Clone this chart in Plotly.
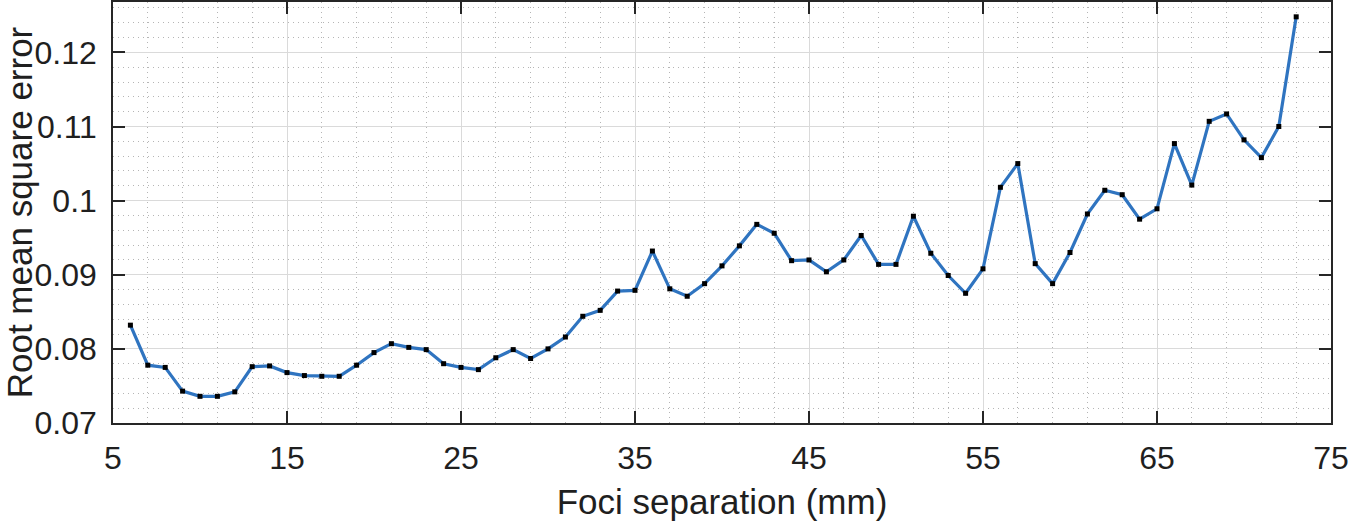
import plotly.graph_objects as go

# Foci separation (mm)
separation = list(range(6, 74))

# Root mean square error
rmse = [
    0.0832, 0.0778, 0.0775, 0.0743, 0.0736, 0.0736, 0.0742, 0.0776,
    0.0777, 0.0768, 0.0764, 0.0763, 0.0763, 0.0778, 0.0795, 0.0807,
    0.0802, 0.0799, 0.0780, 0.0775, 0.0772, 0.0788, 0.0799, 0.0787,
    0.0800, 0.0816, 0.0844, 0.0852, 0.0878, 0.0879, 0.0932, 0.0881,
    0.0871, 0.0888, 0.0912, 0.0939, 0.0968, 0.0956, 0.0919, 0.0920,
    0.0904, 0.0920, 0.0953, 0.0914, 0.0914, 0.0979, 0.0929, 0.0899,
    0.0875, 0.0908, 0.1018, 0.1050, 0.0915, 0.0888, 0.0930, 0.0982,
    0.1014, 0.1008, 0.0975, 0.0989, 0.1077, 0.1021, 0.1107, 0.1117,
    0.1082, 0.1058, 0.1100, 0.1248,
]

x_ticks = [5, 15, 25, 35, 45, 55, 65, 75]
y_ticks = [0.07, 0.08, 0.09, 0.10, 0.11, 0.12]
y_tick_text = ["0.07", "0.08", "0.09", "0.1", "0.11", "0.12"]

TEXT = "#1f1f1f"
FRAME = "#262626"

fig = go.Figure()

fig.add_trace(
    go.Scatter(
        x=separation,
        y=rmse,
        mode="lines+markers",
        line=dict(color="#2F74C0", width=3.2),
        marker=dict(symbol="square", size=5, color="black"),
        showlegend=False
    )
)

fig.update_layout(
    width=1350,
    height=523,
    margin=dict(l=113, r=19, t=2, b=100),
    paper_bgcolor="white",
    plot_bgcolor="white",
    font=dict(family="Liberation Sans, Arial, sans-serif", color=TEXT, size=32)
)

fig.update_xaxes(
    range=[5, 75],
    tickvals=x_ticks,
    ticks="inside",
    ticklen=12,
    tickwidth=1.5,
    tickcolor=FRAME,
    showline=True,
    linecolor=FRAME,
    linewidth=1.5,
    mirror="ticks",
    showgrid=True,
    gridcolor="#dadada",
    gridwidth=1,
    zeroline=False,
    automargin=False,
    tickfont=dict(size=32),
    ticklabelstandoff=6,
    minor=dict(dtick=2, tick0=5, showgrid=True, gridcolor="#b5b5b5",
               griddash="1px,4px", gridwidth=1.2),
    title=dict(text="Foci separation (mm)", font=dict(size=35), standoff=14)
)

fig.update_yaxes(
    range=[0.07, 0.1268],
    tickvals=y_ticks,
    ticktext=y_tick_text,
    ticks="inside",
    ticklen=12,
    tickwidth=1.5,
    tickcolor=FRAME,
    showline=True,
    linecolor=FRAME,
    linewidth=1.5,
    mirror="ticks",
    showgrid=True,
    gridcolor="#dadada",
    gridwidth=1,
    zeroline=False,
    automargin=False,
    tickfont=dict(size=32),
    ticklabelstandoff=8,
    minor=dict(dtick=0.002, tick0=0.07, showgrid=True, gridcolor="#b5b5b5",
               griddash="1px,4px", gridwidth=1.2),
    title=dict(text="Root mean square error", font=dict(size=35), standoff=0)
)

# page body has a default 8px margin; drop it so the figure sits at 0,0
fig.write_html(
    "out.html",
    config={"displayModeBar": False},
    post_script="document.body.style.margin='0';"
)
